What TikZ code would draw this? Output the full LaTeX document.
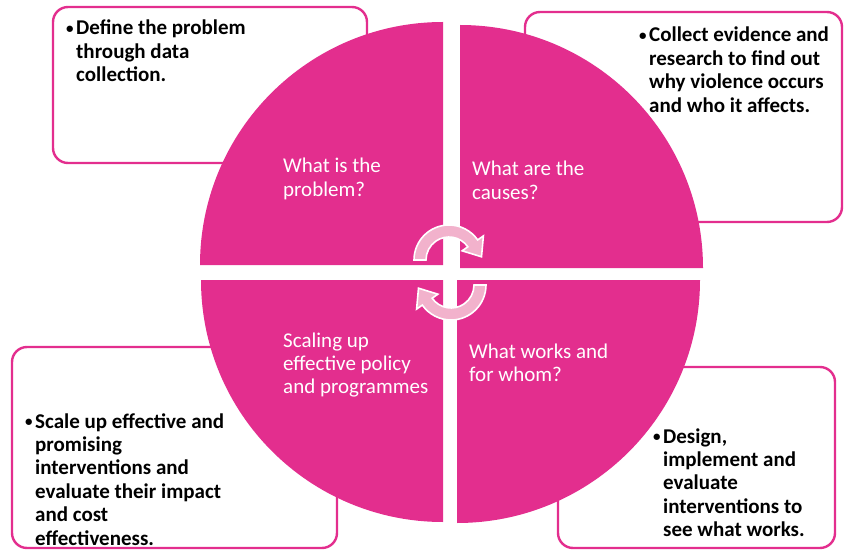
\documentclass[tikz,border=0pt]{standalone}
\usepackage{fontspec}
\setmainfont{Carlito}
\definecolor{mag}{RGB}{227,46,142}
\definecolor{lightpink}{RGB}{242,178,204}
\newcommand\cyclearrowpath{%
  (180:35) arc (180:35:35) -- (35:42) -- (32.5,3.2) -- (35:16) -- (35:23) arc (35:180:23) -- cycle}
\newcommand\bul{\makebox[10pt][l]{\raisebox{1.5pt}{\fontsize{15}{15}\selectfont•}}}
\begin{document}
\begin{tikzpicture}[x=1pt,y=1pt,
  infobox/.style={draw=mag,line width=2.4pt,fill=white,rounded corners=15pt},
  quad/.style={fill=mag,draw=none},
  desc/.style={inner sep=0pt,anchor=base west,text=black,font=\fontsize{21}{23.4}\selectfont\bfseries},
  qtext/.style={inner sep=0pt,anchor=base west,text=white,font=\fontsize{21}{23.2}\selectfont},
  cyc/.style={fill=lightpink,draw=white,line width=1.6pt,line join=miter}]
\useasboundingbox (0,0) rectangle (844,550);
% boxes
\path[infobox] (53,387) rectangle (367,543);
\path[infobox] (525,328) rectangle (842,538);
\path[infobox] (12,2) rectangle (337,203);
\path[infobox] (558,2) rectangle (835,183);
% quadrants
\path[quad] (443,285) -- ++(180:243) arc (180:90:243) -- cycle;
\path[quad] (460,282) -- ++(90:243) arc (90:0:243) -- cycle;
\path[quad] (443,270) -- ++(270:242) arc (270:180:242) -- cycle;
\path[quad] (457,270) -- ++(0:243) arc (0:-90:243) -- cycle;
% quadrant texts
\node[qtext] (q1) at (283,377) {\begin{tabular}[t]{@{}l@{}}What is the\\problem?\end{tabular}};
\node[qtext] (q2) at (472,374) {\begin{tabular}[t]{@{}l@{}}What are the\\causes?\end{tabular}};
\node[qtext] (q3) at (283,203) {\begin{tabular}[t]{@{}l@{}}Scaling up\\effective policy\\and programmes\end{tabular}};
\node[qtext] (q4) at (469,192) {\begin{tabular}[t]{@{}l@{}}What works and\\for whom?\end{tabular}};
% descriptions
\node[desc] (d1) at (66,515) {\begin{tabular}[t]{@{}l@{}l@{}}\bul&Define the problem\\&through data\\&collection.\end{tabular}};
\node[desc] (d2) at (639,508) {\begin{tabular}[t]{@{}l@{}l@{}}\bul&Collect evidence and\\&research to find out\\&why violence occurs\\&and who it affects.\end{tabular}};
\node[desc] (d3) at (25,122) {\begin{tabular}[t]{@{}l@{}l@{}}\bul&Scale up effective and\\&promising\\&interventions and\\&evaluate their impact\\&and cost\\&effectiveness.\end{tabular}};
\node[desc] (d4) at (653,107) {\begin{tabular}[t]{@{}l@{}l@{}}\bul&Design,\\&implement and\\&evaluate\\&interventions to\\&see what works.\end{tabular}};
% cycle arrows
\path[cyc,shift={(449,290)}] \cyclearrowpath;
\path[cyc,shift={(451,265)},rotate=180] \cyclearrowpath;
\end{tikzpicture}
\end{document}
